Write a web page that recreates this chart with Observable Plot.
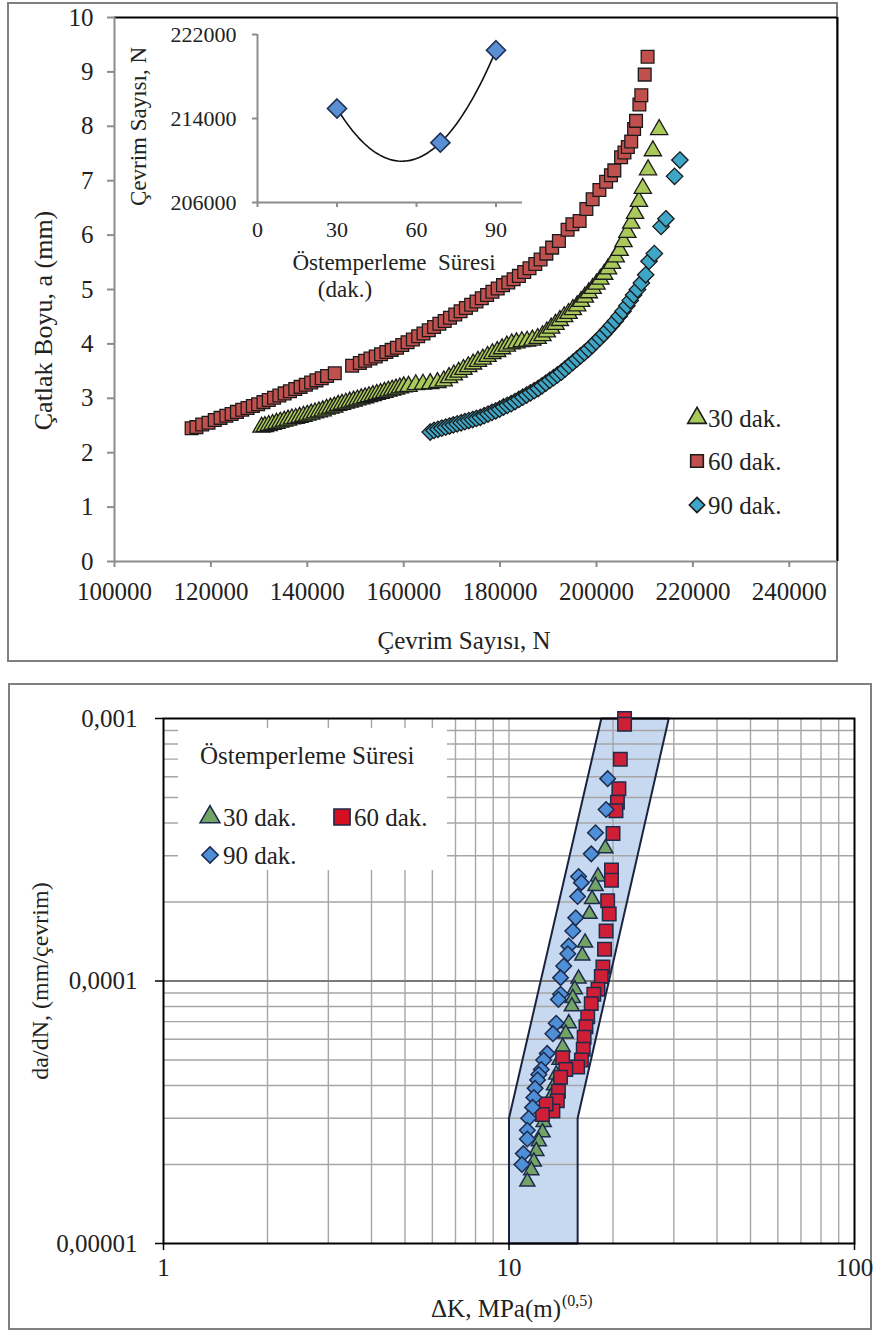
<!DOCTYPE html>
<html><head><meta charset="utf-8">
<script src="https://cdn.jsdelivr.net/npm/d3@7"></script>
<script src="https://cdn.jsdelivr.net/npm/@observablehq/plot@0.6"></script>
<style>
body{margin:0;background:#fff;font-family:"Liberation Serif","Times New Roman","DejaVu Serif",serif;color:#222;}
#wrap{position:relative;width:880px;height:1336px;overflow:hidden;background:#fff;}
.frame{position:absolute;border:2px solid #808080;box-sizing:border-box;}
.txt{position:absolute;white-space:nowrap;line-height:1;transform:translateY(-50%);font-family:"Liberation Serif","Times New Roman","DejaVu Serif",serif;}
</style></head><body><div id="wrap"></div>
<script>
// ---------- Top chart data: crack length a (mm) vs cycles N ----------
const n30 = [130500,131200,132000,132800,133600,134400,135200,136000,136800,137600,138400,139200,140000,140800,141600,142400,143200,144000,144800,145600,146400,147200,148000,148800,149600,150400,151200,152000,152800,153600,154400,155200,156000,156800,157600,158400,159200,160000,161000,162500,164000,165500,167000,168300,169400,170400,171400,172400,173400,174400,175400,176400,177400,178400,179400,180400,181400,182400,183400,184500,185600,186700,187800,188800,189700,190600,191500,192400,193300,194200,195100,196000,196800,197600,198400,199200,200000,200800,201600,202400,203200,204000,204800,205600,206400,207200,208000,208800,209600,210700,211700,213000];
const a30 = [2.47,2.48,2.50,2.52,2.54,2.56,2.58,2.60,2.62,2.63,2.65,2.67,2.69,2.71,2.73,2.75,2.77,2.80,2.82,2.84,2.87,2.89,2.91,2.93,2.95,2.97,2.99,3.01,3.03,3.05,3.07,3.09,3.11,3.13,3.15,3.17,3.19,3.21,3.22,3.25,3.26,3.27,3.29,3.32,3.38,3.43,3.48,3.53,3.58,3.63,3.68,3.72,3.77,3.82,3.86,3.91,3.96,4.00,4.02,4.04,4.05,4.07,4.10,4.15,4.22,4.29,4.36,4.43,4.50,4.56,4.63,4.70,4.78,4.86,4.94,5.02,5.10,5.19,5.28,5.38,5.48,5.60,5.72,5.88,6.05,6.22,6.40,6.62,6.86,7.20,7.55,7.94];

const n60 = [116000,117000,118200,119500,120800,122000,123200,124300,125400,126500,127600,128700,129800,130900,132000,133100,134200,135300,136400,137500,138600,139700,140800,141900,143000,144100,145700,149300,150900,152000,153100,154200,155300,156400,157500,158600,159700,160800,161900,163000,164100,165200,166300,167400,168500,169600,170700,171800,172900,174000,175100,176200,177300,178400,179500,180600,181700,182800,183900,185000,186100,187300,188400,189600,190800,192200,194000,195000,196500,197900,199200,200600,202000,203000,203700,205100,205800,206500,207200,207800,208200,208900,209300,210000,210600];
const a60 = [2.45,2.47,2.52,2.55,2.60,2.64,2.68,2.71,2.75,2.79,2.82,2.86,2.89,2.93,2.97,3.01,3.05,3.09,3.13,3.17,3.21,3.25,3.29,3.33,3.37,3.41,3.46,3.60,3.65,3.69,3.73,3.77,3.81,3.85,3.89,3.93,3.98,4.03,4.08,4.14,4.19,4.25,4.31,4.37,4.42,4.48,4.54,4.60,4.66,4.72,4.78,4.84,4.90,4.96,5.02,5.08,5.13,5.19,5.25,5.32,5.39,5.47,5.55,5.66,5.77,5.89,6.10,6.20,6.26,6.48,6.66,6.83,6.98,7.10,7.19,7.43,7.52,7.62,7.72,7.95,8.10,8.40,8.57,8.95,9.28];

const n90 = [165500,166300,167100,167900,168700,169500,170300,171100,171900,172700,173500,174300,175100,175900,176700,177500,178300,179100,179900,180700,181500,182300,183100,183900,184700,185500,186300,187100,187900,188700,189500,190300,191100,191900,192700,193500,194300,195100,195900,196700,197500,198300,199100,199900,200700,201500,202300,203100,203900,204700,205500,206300,207000,207700,208500,209300,210200,210900,212000,213400,214400,216200,217300];
const a90 = [2.38,2.41,2.43,2.45,2.47,2.49,2.51,2.53,2.55,2.57,2.59,2.61,2.63,2.65,2.68,2.71,2.74,2.77,2.80,2.84,2.87,2.90,2.94,2.98,3.02,3.06,3.10,3.14,3.18,3.23,3.28,3.33,3.38,3.43,3.48,3.54,3.60,3.66,3.72,3.78,3.84,3.90,3.97,4.04,4.11,4.18,4.26,4.34,4.42,4.51,4.60,4.70,4.80,4.90,5.00,5.12,5.27,5.52,5.66,6.16,6.30,7.08,7.38];

const topXTicks = [100000,120000,140000,160000,180000,200000,220000,240000];
const topYTicks = [0,1,2,3,4,5,6,7,8,9,10];
const seriesLabels = ["30 dak.","60 dak.","90 dak."];

// ---------- Inset data ----------
const insetTimes = [30, 69, 90];
const insetCycles = [214950, 211700, 220500];
const insetXTicks = [0,30,60,90];
const insetYTicks = [206000,214000,222000];

// ---------- Bottom chart data: da/dN vs ΔK ----------
const dk30 = [19.0,18.1,17.8,17.4,17.1,16.6,16.3,15.9,15.5,15.3,15.2,14.9,14.6,14.3,14.0,13.7,13.5,13.2,12.9,12.6,12.5,12.2,12.0,11.8,11.6,11.3];
const r30 = [3.2e-4,2.5e-4,2.3e-4,2.05e-4,1.8e-4,1.4e-4,1.25e-4,1.02e-4,9.3e-5,8.6e-5,8.0e-5,6.9e-5,6.3e-5,5.6e-5,5.0e-5,4.4e-5,4.0e-5,3.6e-5,3.2e-5,2.9e-5,2.65e-5,2.45e-5,2.25e-5,2.05e-5,1.9e-5,1.72e-5];
const dk60 = [21.6,21.6,21.0,20.8,20.6,20.4,20.0,19.8,19.8,19.3,19.5,19.1,18.9,18.7,18.5,18.1,17.6,17.3,16.9,16.7,16.5,16.4,16.2,15.8,14.3,14.6,14.1,13.9,13.8,13.4,12.8,12.5];
const r60 = [1.0e-3,9.5e-4,7.0e-4,5.4e-4,4.8e-4,4.45e-4,3.65e-4,2.65e-4,2.42e-4,2.02e-4,1.8e-4,1.55e-4,1.32e-4,1.13e-4,1.04e-4,9.3e-5,8.9e-5,8.2e-5,7.3e-5,6.7e-5,6.1e-5,5.5e-5,5.0e-5,4.7e-5,5.1e-5,4.6e-5,4.3e-5,3.8e-5,3.5e-5,3.2e-5,3.4e-5,3.1e-5];
const dk90 = [19.3,19.1,17.8,17.3,15.9,16.2,15.8,15.6,15.3,14.9,14.8,14.4,14.1,14.1,13.9,13.7,13.4,12.9,12.6,12.4,12.2,12.1,11.9,11.8,11.7,11.4,11.3,11.3,11.0,10.9];
const r90 = [5.9e-4,4.5e-4,3.67e-4,3.05e-4,2.5e-4,2.37e-4,2.1e-4,1.74e-4,1.55e-4,1.36e-4,1.27e-4,1.14e-4,1.03e-4,8.9e-5,8.5e-5,6.9e-5,6.3e-5,5.3e-5,5.0e-5,4.6e-5,4.4e-5,4.2e-5,3.9e-5,3.6e-5,3.3e-5,3.0e-5,2.7e-5,2.5e-5,2.2e-5,2.0e-5];

// scatter band outline (ΔK, da/dN)
const bandK = [10, 10, 18.5, 29, 15.8, 15.8, 10];
const bandR = [1e-5, 3e-5, 1e-3, 1e-3, 3e-5, 1e-5, 1e-5];

const botXTicks = [1,10,100];
const botXLabels = ["1","10","100"];
const botYTicks = [0.00001,0.0001,0.001];
const botYLabels = ["0,00001","0,0001","0,001"];
const botXGrid = [2,3,4,5,6,7,8,9,10,20,30,40,50,60,70,80,90];
const botYGrid = [2e-5,3e-5,4e-5,5e-5,6e-5,7e-5,8e-5,9e-5,2e-4,3e-4,4e-4,5e-4,6e-4,7e-4,8e-4,9e-4];
const botYMajor = [0.0001];

// ---------- helpers ----------
const zip = (xs, ys) => xs.map((x, i) => ({x, y: ys[i]}));
const FONT = '"Liberation Serif", "Times New Roman", "DejaVu Serif", serif';
const wrap = document.getElementById("wrap");
function place(el, left, top) { el.style.position = "absolute"; el.style.left = left + "px"; el.style.top = top + "px"; wrap.appendChild(el); return el; }
function frameBox(l, t, w, h) { const d = document.createElement("div"); d.className = "frame"; d.style.width = w + "px"; d.style.height = h + "px"; return place(d, l, t); }
function label(text, left, cy, size) { const d = document.createElement("div"); d.className = "txt"; d.textContent = text; d.style.fontSize = size + "px"; return place(d, left, cy); }
const symbols = {triangle: d3.symbolTriangle, square: d3.symbolSquare, diamond: d3.symbolDiamond2};
function marker(type, size, fill, stroke, cx, cy) {
  const s = 26;
  const svg = d3.create("svg").attr("width", s).attr("height", s).style("overflow", "visible");
  svg.append("path").attr("transform", `translate(${s/2},${s/2})`).attr("d", d3.symbol(symbols[type], size)())
    .attr("fill", fill).attr("stroke", stroke).attr("stroke-width", 1.6);
  return place(svg.node(), cx - s/2, cy - s/2);
}
const fmtFrom = (ticks, labels) => { const m = new Map(ticks.map((t, i) => [t, labels[i]])); return d => m.get(d) ?? ""; };

// polynomial (order 2) trendline through the inset points, as in the source spreadsheet
function quadTrend(xs, ys, steps) {
  const [x0, x1, x2] = xs, [y0, y1, y2] = ys;
  const f = x => y0 * (x - x1) * (x - x2) / ((x0 - x1) * (x0 - x2)) + y1 * (x - x0) * (x - x2) / ((x1 - x0) * (x1 - x2)) + y2 * (x - x0) * (x - x1) / ((x2 - x0) * (x2 - x1));
  const lo = d3.min(xs), hi = d3.max(xs);
  return d3.range(steps + 1).map(i => { const x = lo + (hi - lo) * i / steps; return {x, y: f(x)}; });
}

const C30 = "#a9c95a", C60 = "#c0504d", C90 = "#3ea6c6", SK = "#1b1b1b";
const B30 = "#74a366", B60 = "#cf1f36", B90 = "#4f8fd8", BSK = "#1d2b4d";
const GRAYAX = "#8c8c8c";
const T = {fill: "#222", textAnchor: "middle", lineAnchor: "middle"};

// ---------- panel frames ----------
frameBox(7, 2, 831, 660);
frameBox(8, 683, 864, 647);

// ---------- TOP MAIN CHART ----------
const topPlot = Plot.plot({
  width: 880, height: 670,
  marginLeft: 114, marginRight: 43, marginTop: 17, marginBottom: 109,
  style: {fontFamily: FONT, fontSize: "25px", color: "#222", background: "transparent", overflow: "visible"},
  x: {domain: [100000, 250000], label: null},
  y: {domain: [0, 10], label: null},
  marks: [
    Plot.ruleY([10], {stroke: "#000", strokeWidth: 2}),
    Plot.ruleX([250000], {stroke: "#000", strokeWidth: 2}),
    Plot.ruleX([100000], {stroke: GRAYAX, strokeWidth: 2}),
    Plot.ruleY([0], {stroke: GRAYAX, strokeWidth: 2}),
    Plot.axisX({ticks: topXTicks, tickSize: 6, tickPadding: 15, stroke: GRAYAX, strokeWidth: 2, fill: "#222", tickFormat: d3.format("d"), label: null}),
    Plot.axisY({ticks: topYTicks, tickSize: 7, tickPadding: 14, stroke: GRAYAX, strokeWidth: 2, fill: "#222", tickFormat: d3.format("d"), label: null}),
    Plot.text(["Çevrim Sayısı, N"], {...T, frameAnchor: "bottom", dy: 79, dx: -12, fontSize: 25}),
    Plot.text(["Çatlak Boyu, a (mm)"], {...T, frameAnchor: "left", rotate: -90, dx: -71, dy: 31, fontSize: 26}),
    Plot.dot(zip(n60, a60), {x: "x", y: "y", symbol: "square", r: 7.2, fill: C60, stroke: SK, strokeWidth: 1.3}),
    Plot.dot(zip(n30, a30), {x: "x", y: "y", symbol: "triangle", r: 6.4, fill: C30, stroke: SK, strokeWidth: 1.3}),
    Plot.dot(zip(n90, a90), {x: "x", y: "y", symbol: "diamond2", r: 7.4, fill: C90, stroke: SK, strokeWidth: 1.3})
  ]
});
place(topPlot, 0, 0);

// top legend
marker("triangle", 150, C30, SK, 697, 418); label(seriesLabels[0], 708, 418, 25);
marker("square", 160, C60, SK, 697, 461); label(seriesLabels[1], 708, 461, 25);
marker("diamond", 150, C90, SK, 697, 505); label(seriesLabels[2], 708, 505, 25);

// ---------- INSET ----------
const insetPlot = Plot.plot({
  width: 420, height: 280,
  marginLeft: 137, marginRight: 18, marginTop: 6, marginBottom: 106,
  style: {fontFamily: FONT, fontSize: "22px", color: "#222", background: "transparent", overflow: "visible"},
  x: {domain: [0, 100], label: null},
  y: {domain: [206000, 222000], label: null},
  marks: [
    Plot.ruleX([0], {stroke: GRAYAX, strokeWidth: 2}),
    Plot.ruleY([206000], {stroke: GRAYAX, strokeWidth: 2}),
    Plot.axisX({ticks: insetXTicks, tickSize: 5, tickPadding: 14, stroke: GRAYAX, strokeWidth: 2, fill: "#222", label: null}),
    Plot.axisY({ticks: insetYTicks, tickSize: 5, tickPadding: 16, stroke: GRAYAX, strokeWidth: 2, fill: "#222", tickFormat: d3.format("d"), label: null}),
    Plot.text(["Östemperleme  Süresi"], {...T, frameAnchor: "bottom", dy: 60, dx: 4, fontSize: 23}),
    Plot.text(["(dak.)"], {...T, frameAnchor: "bottom", dy: 87, dx: -45, fontSize: 23}),
    Plot.text(["Çevrim Sayısı, N"], {...T, frameAnchor: "left", rotate: -90, dx: -119, dy: 8, fontSize: 23}),
    Plot.line(quadTrend(insetTimes, insetCycles, 60), {x: "x", y: "y", stroke: "#111", strokeWidth: 1.6}),
    Plot.dot(zip(insetTimes, insetCycles), {x: "x", y: "y", symbol: "diamond2", r: 8.6, fill: "#5a8fd4", stroke: "#1f2f55", strokeWidth: 1.6})
  ]
});
place(insetPlot, 120, 28);

// ---------- BOTTOM CHART ----------
const botPlot = Plot.plot({
  width: 880, height: 653,
  marginLeft: 163, marginRight: 26, marginTop: 35, marginBottom: 93,
  style: {fontFamily: FONT, fontSize: "25px", color: "#222", background: "transparent", overflow: "visible"},
  x: {type: "log", domain: [1, 100], label: null},
  y: {type: "log", domain: [0.00001, 0.001], label: null},
  marks: [
    Plot.line(zip(bandK, bandR), {x: "x", y: "y", fill: "#c6d9f1", stroke: "none"}),
    Plot.ruleX(botXGrid, {stroke: "#a6a6a6", strokeWidth: 1.4}),
    Plot.ruleY(botYGrid, {stroke: "#a6a6a6", strokeWidth: 1.4}),
    Plot.ruleY(botYMajor, {stroke: "#7a7a7a", strokeWidth: 1.8}),
    Plot.line(zip(bandK, bandR), {x: "x", y: "y", stroke: "#1b2340", strokeWidth: 2}),
    Plot.frame({stroke: "#000", strokeWidth: 2}),
    Plot.axisX({ticks: botXTicks, tickSize: 7, tickPadding: 8, stroke: "#000", strokeWidth: 1.5, fill: "#222", tickFormat: fmtFrom(botXTicks, botXLabels), label: null}),
    Plot.axisY({ticks: botYTicks, tickSize: 8, tickPadding: 18, stroke: "#000", strokeWidth: 1.5, fill: "#222", tickFormat: fmtFrom(botYTicks, botYLabels), label: null}),
    Plot.text(["ΔK, MPa(m)"], {fill: "#222", lineAnchor: "middle", frameAnchor: "bottom", textAnchor: "end", dx: 52, dy: 65, fontSize: 25}),
    Plot.text(["(0,5)"], {fill: "#222", lineAnchor: "middle", frameAnchor: "bottom", textAnchor: "start", dx: 53, dy: 57, fontSize: 16}),
    Plot.text(["da/dN, (mm/çevrim)"], {...T, frameAnchor: "left", rotate: -90, dx: -123, fontSize: 24}),
    Plot.dot(zip(dk30, r30), {x: "x", y: "y", symbol: "triangle", r: 5.6, fill: B30, stroke: BSK, strokeWidth: 1.5}),
    Plot.dot(zip(dk60, r60), {x: "x", y: "y", symbol: "square", r: 7.6, fill: B60, stroke: BSK, strokeWidth: 1.5}),
    Plot.dot(zip(dk90, r90), {x: "x", y: "y", symbol: "diamond2", r: 7.0, fill: B90, stroke: BSK, strokeWidth: 1.5})
  ]
});
place(botPlot, 0, 683);

// bottom legend (white box over grid)
const box = document.createElement("div");
box.style.width = "269px"; box.style.height = "142px"; box.style.background = "#fff";
place(box, 178, 728);
label("Östemperleme Süresi", 200, 755, 25);
marker("triangle", 170, B30, BSK, 210, 817); label(seriesLabels[0], 223, 817, 25);
marker("square", 260, "#d40f1f", BSK, 342, 817); label(seriesLabels[1], 354, 817, 25);
marker("diamond", 170, B90, BSK, 210, 855); label(seriesLabels[2], 223, 855, 25);
</script></body></html>
